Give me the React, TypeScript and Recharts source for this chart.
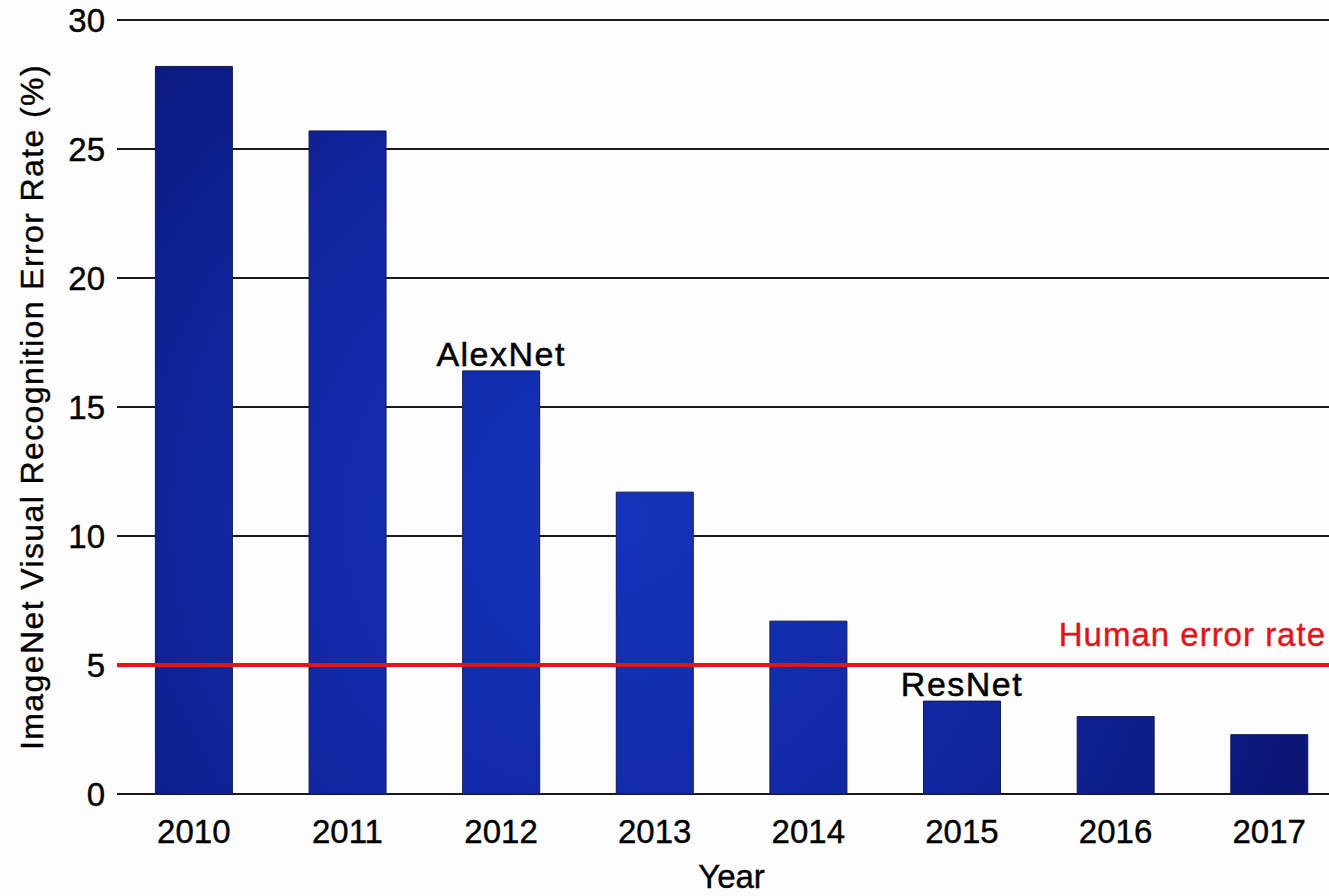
import React from 'react';
import { BarChart, Bar, XAxis, YAxis, CartesianGrid, ReferenceLine, Label, LabelList } from 'recharts';

const years = ['2010', '2011', '2012', '2013', '2014', '2015', '2016', '2017'];
const errorRates = [28.2, 25.7, 16.4, 11.7, 6.7, 3.6, 3.0, 2.3];
const annotations = ['', '', 'AlexNet', '', '', 'ResNet', '', ''];
const yTicks = [0, 5, 10, 15, 20, 25, 30];
const humanErrorRate = 5;

const data = years.map((year, i) => ({ year, rate: errorRates[i], note: annotations[i] }));

const FONT = '"Liberation Sans", Arial, Helvetica, sans-serif';

const NoteLabel = (props: any) => {
  const { x, y, width, value } = props;
  if (!value) return null;
  return (
    <text x={x + width / 2} y={y - 5} textAnchor="middle" fontFamily={FONT} fontSize={34} letterSpacing={1.5} fill="#000" stroke="#000" strokeWidth={0.5}>
      {value}
    </text>
  );
};

const HumanLabel = (props: any) => {
  const vb = props.viewBox || {};
  return (
    <text x={1326 - vb.x + vb.x} y={vb.y - 19} textAnchor="end" fontFamily={FONT} fontSize={33} letterSpacing={1} fill="#e0141b" stroke="#e0141b" strokeWidth={0.4}>
      Human error rate
    </text>
  );
};

export default function App() {
  return (
    <div style={{ position: 'absolute', left: 0, top: 0, width: 1329, height: 896, overflow: 'hidden', background: '#fdfdfd' }}>
      <BarChart
        width={1346}
        height={896}
        data={data}
        margin={{ top: 20, right: 0, bottom: 0, left: 0 }}
        barCategoryGap="25%"
        style={{ fontFamily: FONT }}
      >
        <defs>
          <radialGradient id="barGrad" gradientUnits="userSpaceOnUse" cx={620} cy={520} r={760}>
            <stop offset="0%" stopColor="#1434bb" />
            <stop offset="50%" stopColor="#1128a3" />
            <stop offset="100%" stopColor="#0a1470" />
          </radialGradient>
        </defs>
        <CartesianGrid vertical={false} stroke="#1a1a1a" strokeWidth={2} />
        <XAxis
          dataKey="year"
          height={102}
          axisLine={false}
          tickLine={false}
          tickSize={0}
          tickMargin={26}
          tick={{ fill: '#000', fontSize: 33, fontFamily: FONT, stroke: '#000', strokeWidth: 0.4 }}
          interval={0}
        >
          <Label value="Year" position="insideBottom" offset={8} fill="#000" stroke="#000" strokeWidth={0.4} fontSize={33} fontFamily={FONT} />
        </XAxis>
        <YAxis
          width={117}
          domain={[0, 30]}
          ticks={yTicks}
          axisLine={false}
          tickLine={false}
          tickSize={0}
          tickMargin={12}
          tick={{ fill: '#000', fontSize: 33, fontFamily: FONT, stroke: '#000', strokeWidth: 0.4 }}
        >
          <Label
            value="ImageNet Visual Recognition Error Rate (%)"
            angle={-90}
            position="insideLeft"
            offset={32}
            fill="#000"
            stroke="#000"
            strokeWidth={0.4}
            fontSize={32}
            letterSpacing={1.4}
            fontFamily={FONT}
            style={{ textAnchor: 'middle' }}
          />
        </YAxis>
        <Bar dataKey="rate" fill="url(#barGrad)" stroke="#141a4a" strokeWidth={1} isAnimationActive={false}>
          <LabelList dataKey="note" content={NoteLabel} />
        </Bar>
        <ReferenceLine y={humanErrorRate} stroke="#e3141b" strokeWidth={4} label={HumanLabel} />
      </BarChart>
    </div>
  );
}
